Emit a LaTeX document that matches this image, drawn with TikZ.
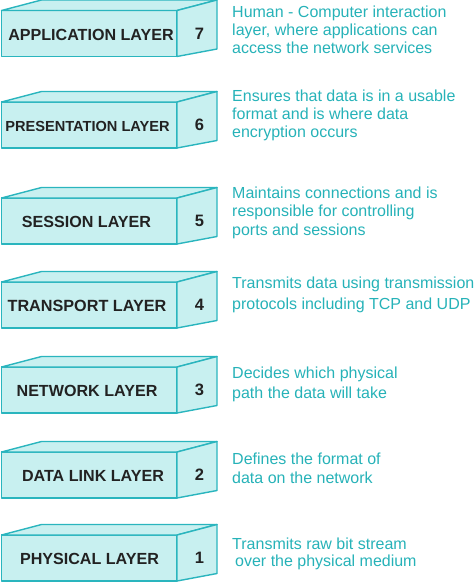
\documentclass[tikz,border=0pt]{standalone}
\usepackage{fontspec}
\setmainfont{Liberation Sans}
\definecolor{boxline}{HTML}{2AB5BE}
\definecolor{boxfill}{HTML}{C8F0F0}
\definecolor{desccol}{HTML}{26B2B8}
\definecolor{lblcol}{HTML}{222222}
\tikzset{
  boxface/.style={draw=boxline, fill=boxfill, line width=1.4pt, line join=round},
  lbltext/.style={font=\fontsize{16}{18}\selectfont\bfseries, text=lblcol, inner sep=0pt, anchor=center},
  numtext/.style={font=\fontsize{16.5}{18}\selectfont\bfseries, text=lblcol, inner sep=0pt, anchor=center},
  desctext/.style={font=\fontsize{16}{18}\selectfont, text=desccol, inner sep=0pt, anchor=base west}
}
% #1 name, #2 front top y, #3 label, #4 number, #5 label centre x, #6 label font size
\newcommand{\osibox}[6]{%
  \path[boxface] (1.5,#2) rectangle (177,{#2+46});
  \path[boxface] (1.5,#2) -- (41.5,{#2-10.5}) -- (217,{#2-10.5}) -- (177,#2) -- cycle;
  \path[boxface] (177,#2) -- (217,{#2-10.5}) -- (217,{#2+38.5}) -- (177,{#2+46}) -- cycle;
  \node[lbltext, font=\fontsize{#6}{18}\selectfont\bfseries] (#1label) at (#5,{#2+24}) {#3};
  \node[numtext] (#1num) at (199.5,{#2+23}) {#4};
}
\begin{document}
\begin{tikzpicture}[x=1pt, y=-1pt]
\useasboundingbox (0,0) rectangle (474,584);
\osibox{app}{10.5}{APPLICATION LAYER}{7}{91}{16.1}
\osibox{pres}{102}{PRESENTATION LAYER}{6}{87.5}{14.6}
\osibox{sess}{198}{SESSION LAYER}{5}{86.5}{16.1}
\osibox{trans}{282}{TRANSPORT LAYER}{4}{87}{16.2}
\osibox{net}{367}{NETWORK LAYER}{3}{87}{16.1}
\osibox{data}{452}{DATA LINK LAYER}{2}{93}{16.1}
\osibox{phys}{535}{PHYSICAL LAYER}{1}{89.5}{16.1}

\node[desctext] (d7a) at (232,17) {Human - Computer interaction};
\node[desctext] (d7b) at (232,35) {layer, where applications can};
\node[desctext] (d7c) at (232,53) {access the network services};

\node[desctext] (d6a) at (232,101) {Ensures that data is in a usable};
\node[desctext] (d6b) at (232,119) {format and is where data};
\node[desctext] (d6c) at (232,137) {encryption occurs};

\node[desctext] (d5a) at (232,198) {Maintains connections and is};
\node[desctext] (d5b) at (232,216.5) {responsible for controlling};
\node[desctext] (d5c) at (232,235) {ports and sessions};

\node[desctext] (d4a) at (232,288) {Transmits data using transmission};
\node[desctext] (d4b) at (232,309) {protocols including TCP and UDP};

\node[desctext] (d3a) at (232,378) {Decides which physical};
\node[desctext] (d3b) at (232,398) {path the data will take};

\node[desctext] (d2a) at (232,464) {Defines the format of};
\node[desctext] (d2b) at (232,483) {data on the network};

\node[desctext] (d1a) at (232,549) {Transmits raw bit stream};
\node[desctext] (d1b) at (235,566) {over the physical medium};
\end{tikzpicture}
\end{document}
